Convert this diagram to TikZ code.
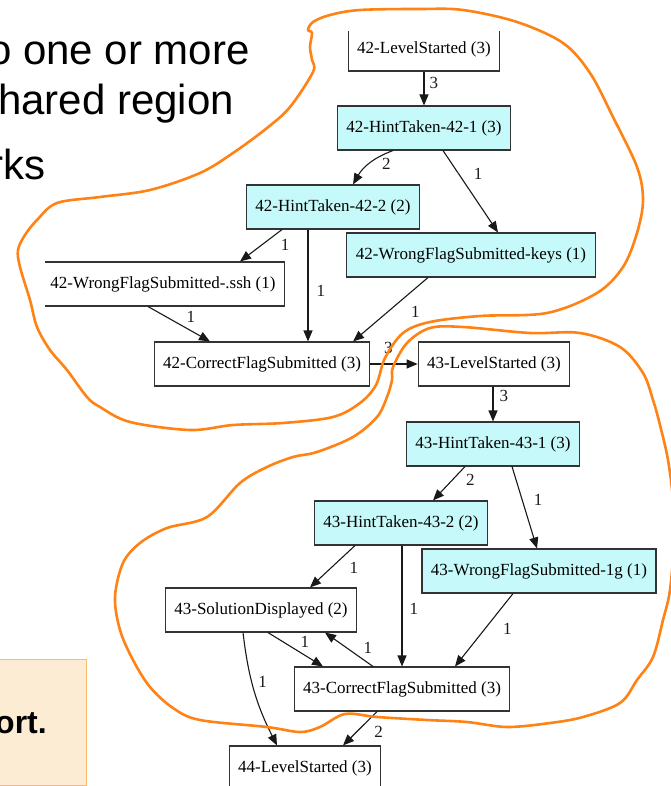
\documentclass[tikz,border=0pt]{standalone}
\usepackage{fontspec}
\setmainfont{Liberation Sans}
\newfontfamily\dotfont{Liberation Serif}
\usetikzlibrary{arrows.meta}

\definecolor{hintcyan}{RGB}{198,250,250}
\definecolor{penorange}{RGB}{255,130,20}
\definecolor{notefill}{RGB}{253,236,212}
\definecolor{noteline}{RGB}{250,188,105}

\tikzset{
  evbox/.style={draw=black!80, line width=1.1pt, rectangle, minimum height=44pt,
    inner xsep=9pt, inner ysep=0pt, font=\dotfont\fontsize{17}{20}\selectfont},
  hintbox/.style={evbox, fill=hintcyan},
  flow/.style={-{Triangle[length=11pt,width=9pt]}, line width=1.1pt, black!90},
  lbl/.style={inner sep=0pt, font=\dotfont\fontsize{17}{20}\selectfont},
  pen/.style={penorange, line width=2.6pt, line cap=round, line join=round},
  slide/.style={anchor=base west, inner sep=0pt, font=\fontsize{42}{50}\selectfont}
}

\begin{document}
\begin{tikzpicture}[x=1pt, y=-1pt]
  \useasboundingbox (0,0) rectangle (671,786);
  \clip (0,0) rectangle (671,786);

  % slide text on the left
  \node[slide] (line1) at (-12,65) {o one or more};
  \node[slide] (line2) at (-2,115) {hared region};
  \node[slide] (line3) at (-11,180) {rks};

  % note box, cut by the left edge
  \filldraw[fill=notefill, draw=noteline, line width=1pt] (-5,659) rectangle (86,785);
  \node[anchor=base west, inner sep=0pt, font=\bfseries\fontsize{32}{38}\selectfont] (note) at (-5,733) {ort.};

  \begin{scope}
    \clip (45,32) rectangle (671,786);

    % level 42
    \node[evbox] (ls42) at (424,49) {42-LevelStarted (3)};
    \node[hintbox] (hint421) at (424,128) {42-HintTaken-42-1 (3)};
    \node[hintbox] (hint422) at (333,207) {42-HintTaken-42-2 (2)};
    \node[hintbox] (wrongkeys) at (471,255) {42-WrongFlagSubmitted-keys (1)};
    \node[evbox] (wrongssh) at (163,284) {42-WrongFlagSubmitted-.ssh (1)};
    \node[evbox] (cf42) at (262,364) {42-CorrectFlagSubmitted (3)};

    % level 43
    \node[evbox] (ls43) at (494,364) {43-LevelStarted (3)};
    \node[hintbox] (hint431) at (493,444) {43-HintTaken-43-1 (3)};
    \node[hintbox] (hint432) at (401,523) {43-HintTaken-43-2 (2)};
    \node[hintbox] (wrong1g) at (539,571) {43-WrongFlagSubmitted-1g (1)};
    \node[evbox] (sol43) at (261,610) {43-SolutionDisplayed (2)};
    \node[evbox] (cf43) at (402,689) {43-CorrectFlagSubmitted (3)};

    % level 44
    \node[evbox] (ls44) at (305,768) {44-LevelStarted (3)};

    % transitions, labelled with counts
    \draw[flow] (ls42) -- node[lbl, right=5pt, pos=.34] {3} (hint421);
    \draw[flow] ([xshift=-31pt]hint421.south) to[bend right=20]
      node[lbl, right=12pt, pos=.5] {2} ([xshift=20pt]hint422.north);
    \draw[flow] ([xshift=19pt]hint421.south) -- node[lbl, right=15pt, pos=.28] {1} ([xshift=27pt]wrongkeys.north);
    \draw[flow] ([xshift=-51pt]hint422.south) -- node[lbl, right=18pt, pos=.47] {1} ([xshift=77pt]wrongssh.north);
    \draw[flow] ([xshift=-25pt]hint422.south) -- node[lbl, right=8pt, pos=.55] {1} ([xshift=46pt]cf42.north);
    \draw[flow] ([xshift=-15pt]wrongssh.south) -- node[lbl, right=20pt, pos=.29] {1} ([xshift=-52pt]cf42.north);
    \draw[flow] ([xshift=-43pt]wrongkeys.south) -- node[lbl, right=23pt, pos=.54] {1} ([xshift=91pt]cf42.north);
    \draw[flow] (cf42) -- node[lbl, above=10pt, pos=.38] {3} (ls43);

    \draw[flow] ([xshift=-1pt]ls43.south) -- node[lbl, right=6pt, pos=.28] {3} (hint431);
    \draw[flow] ([xshift=-28pt]hint431.south) -- node[lbl, right=13pt, pos=.39] {2} ([xshift=32pt]hint432.north);
    \draw[flow] ([xshift=19pt]hint431.south) -- node[lbl, right=11pt, pos=.41] {1} ([xshift=-2pt]wrong1g.north);
    \draw[flow] ([xshift=-46pt]hint432.south) -- node[lbl, right=18pt, pos=.53] {1} ([xshift=49pt]sol43.north);
    \draw[flow] ([xshift=1pt]hint432.south) -- node[lbl, right=7pt, pos=.52] {1} (cf43.north);
    \draw[flow] ([xshift=-26pt]wrong1g.south) -- node[lbl, right=18pt, pos=.49] {1} ([xshift=53pt]cf43.north);
    \draw[flow] ([xshift=7pt]sol43.south) -- node[lbl, right=16pt, pos=.29] {1} ([xshift=-79pt]cf43.north);
    \draw[flow] ([xshift=-29pt]cf43.north) -- node[lbl, right=16pt, pos=.54] {1} ([xshift=64pt]sol43.south);
    \draw[flow] ([xshift=-18pt]sol43.south) to[bend right=10]
      node[lbl, right=6pt, pos=.42] {1} ([xshift=-28pt]ls44.north);
    \draw[flow] ([xshift=-25pt]cf43.south) -- node[lbl, right=17pt, pos=.59] {2} ([xshift=38pt]ls44.north);
  \end{scope}

  % hand-drawn regions round each level
  \draw[pen] plot[smooth cycle, tension=.55] coordinates {
    (308,30) (313,22) (330,15) (360,10) (420,9) (463,10) (517,22) (563,43)
    (590,73) (613,117) (637,167) (643,200) (637,233) (623,267) (597,293)
    (547,313) (480,316) (430,322) (403,333) (385,358) (376,385) (360,403)
    (333,417) (283,423) (233,425) (190,430) (130,422) (100,407) (87,397)
    (67,370) (50,350) (37,327) (30,300) (20,267) (18,250) (25,235) (37,220)
    (57,203) (100,197) (150,190) (200,173) (233,153) (267,128) (290,107)
    (313,72) (312,60) (310,47) (312,33)};
  \draw[pen] plot[smooth cycle, tension=.55] coordinates {
    (392,380) (393,367) (407,343) (430,328) (463,327) (530,333) (580,333)
    (620,347) (643,373) (653,400) (660,425) (668,460) (673,500) (674,540)
    (670,590) (663,620) (653,657) (637,680) (620,703) (583,717) (550,723)
    (507,727) (467,722) (427,720) (377,717) (345,714) (320,727) (300,732)
    (267,727) (200,720) (173,708) (150,687) (133,660) (120,630) (115,597)
    (123,563) (140,543) (167,528) (207,517) (240,483) (267,467) (293,457)
    (317,452) (353,437) (377,417) (387,397)};
\end{tikzpicture}
\end{document}
